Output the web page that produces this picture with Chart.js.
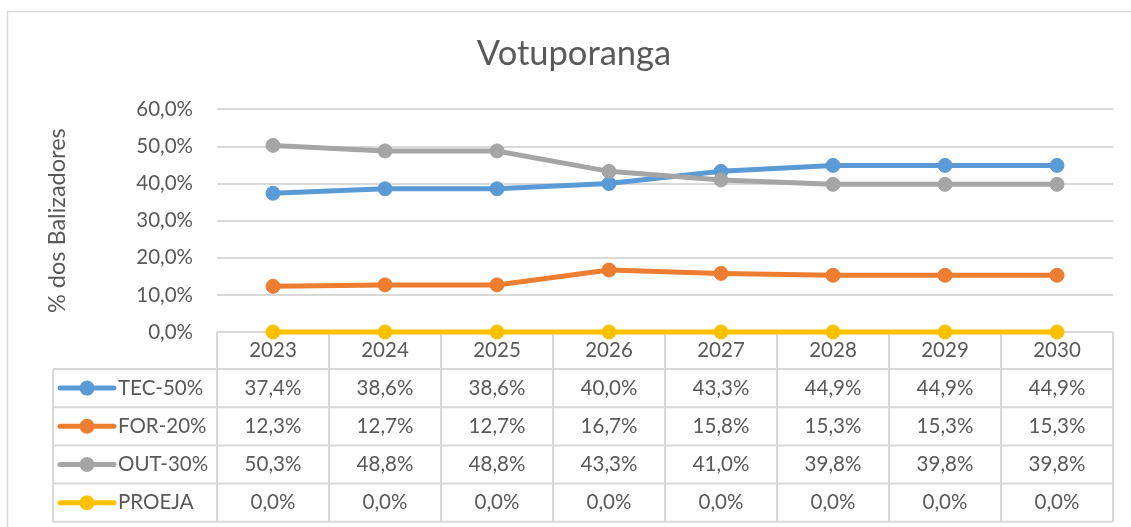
<!DOCTYPE html>
<html>
<head>
<meta charset="utf-8">
<script src="https://cdn.jsdelivr.net/npm/chart.js@4.4.1/dist/chart.umd.min.js"></script>
<style>
  html, body { margin: 0; padding: 0; background: #ffffff; }
  canvas { display: block; }
</style>
</head>
<body>
<canvas id="chart" width="1131" height="527"></canvas>
<script>
// Anos (categorias) e séries em % dos balizadores
const categories = ['2023', '2024', '2025', '2026', '2027', '2028', '2029', '2030'];
const tecValues    = [37.4, 38.6, 38.6, 40.0, 43.3, 44.9, 44.9, 44.9];
const forValues    = [12.3, 12.7, 12.7, 16.7, 15.8, 15.3, 15.3, 15.3];
const outValues    = [50.3, 48.8, 48.8, 43.3, 41.0, 39.8, 39.8, 39.8];
const proejaValues = [0.0, 0.0, 0.0, 0.0, 0.0, 0.0, 0.0, 0.0];
const yTickValues  = [0, 10, 20, 30, 40, 50, 60];

const TEXT = '#595959';
const GRID = '#d9d9d9';
const FONT = 'Lato';

// Formato brasileiro: 37,4%
const fmt = v => v.toFixed(1).replace('.', ',') + '%';

function series(label, data, color, order) {
  return {
    label, data, order,
    borderColor: color,
    backgroundColor: color,
    borderWidth: 5,
    pointRadius: 7,
    pointHoverRadius: 7,
    pointBorderWidth: 1,
    pointBorderColor: color,
    pointBackgroundColor: color,
    tension: 0,
    clip: false
  };
}

// Tabela de dados sob o gráfico (cabeçalho de anos + uma linha por série)
const dataTable = {
  id: 'dataTable',
  beforeDraw(chart) {
    const ctx = chart.ctx;
    ctx.save();
    ctx.fillStyle = '#ffffff';
    ctx.fillRect(0, 0, chart.width, chart.height);
    ctx.strokeStyle = GRID;
    ctx.lineWidth = 1.5;
    ctx.strokeRect(7.5, 11.5, chart.width + 20, chart.height + 20);
    ctx.restore();
  },
  beforeDatasetsDraw(chart) {
    const { ctx, chartArea: { left, right, bottom }, scales: { x } } = chart;
    const datasets = chart.data.datasets;
    const n = categories.length;
    const colW = (right - left) / n;
    const headH = 37, rowH = 38.2, keyLeft = 53;
    const rowsTop = bottom + headH;
    const tableBottom = rowsTop + rowH * datasets.length;

    ctx.save();
    ctx.strokeStyle = GRID;
    ctx.lineWidth = 2;
    ctx.beginPath();
    ctx.moveTo(left, bottom); ctx.lineTo(right, bottom);
    for (let r = 0; r <= datasets.length; r++) {
      const y = rowsTop + r * rowH;
      ctx.moveTo(keyLeft, y); ctx.lineTo(right, y);
    }
    for (let i = 0; i <= n; i++) {
      const xx = left + i * colW;
      ctx.moveTo(xx, bottom); ctx.lineTo(xx, tableBottom);
    }
    ctx.moveTo(keyLeft, rowsTop); ctx.lineTo(keyLeft, tableBottom);
    ctx.stroke();

    ctx.font = '20.5px ' + FONT;
    ctx.fillStyle = TEXT;
    ctx.textBaseline = 'middle';
    ctx.textAlign = 'center';
    categories.forEach((c, i) => ctx.fillText(c, x.getPixelForValue(i), bottom + headH / 2));

    datasets.forEach((ds, r) => {
      const cy = rowsTop + rowH * (r + 0.5);
      ctx.fillStyle = TEXT;
      ctx.textAlign = 'center';
      ds.data.forEach((v, i) => ctx.fillText(fmt(v), x.getPixelForValue(i), cy));

      // chave da legenda
      ctx.strokeStyle = ds.borderColor;
      ctx.lineWidth = 5;
      ctx.lineCap = 'round';
      ctx.beginPath();
      ctx.moveTo(60, cy); ctx.lineTo(114, cy);
      ctx.stroke();
      ctx.fillStyle = ds.borderColor;
      ctx.beginPath();
      ctx.arc(87, cy, 7.5, 0, Math.PI * 2);
      ctx.fill();

      ctx.fillStyle = TEXT;
      ctx.textAlign = 'left';
      ctx.fillText(ds.label, 118, cy);
    });
    ctx.restore();
  }
};

function build() {
  new Chart(document.getElementById('chart'), {
    type: 'line',
    data: {
      labels: categories,
      datasets: [
        series('TEC-50%', tecValues, '#5B9BD5', 3),
        series('FOR-20%', forValues, '#ED7D31', 2),
        series('OUT-30%', outValues, '#A5A5A5', 1),
        series('PROEJA', proejaValues, '#FFC000', 0)
      ]
    },
    options: {
      responsive: false,
      animation: false,
      events: [],
      layout: { padding: { left: 35, right: 18, top: 0, bottom: 195 } },
      plugins: {
        legend: { display: false },
        tooltip: { enabled: false },
        title: {
          display: true,
          text: 'Votuporanga',
          color: TEXT,
          font: { family: FONT, size: 34.5, weight: 'normal' },
          padding: { top: 33, bottom: 35 }
        }
      },
      scales: {
        x: { type: 'category', display: false, offset: true },
        y: {
          min: 0, max: 60,
          afterBuildTicks: s => { s.ticks = yTickValues.map(v => ({ value: v })); },
          afterFit: s => { s.width = 217 - 35; },
          border: { display: false },
          grid: { color: GRID, lineWidth: 2, drawTicks: false },
          ticks: {
            padding: 24,
            color: TEXT,
            font: { family: FONT, size: 20.5 },
            callback: v => fmt(v)
          },
          title: {
            display: true,
            text: '% dos Balizadores',
            color: TEXT,
            font: { family: FONT, size: 23.5, weight: 'normal' },
            padding: { top: 8, bottom: 0 }
          }
        }
      }
    },
    plugins: [dataTable]
  });
}

if (document.fonts && document.fonts.load) {
  Promise.all([document.fonts.load('20.5px Lato'), document.fonts.load('34.5px Lato')])
    .then(build, build);
} else {
  build();
}
</script>
</body>
</html>
